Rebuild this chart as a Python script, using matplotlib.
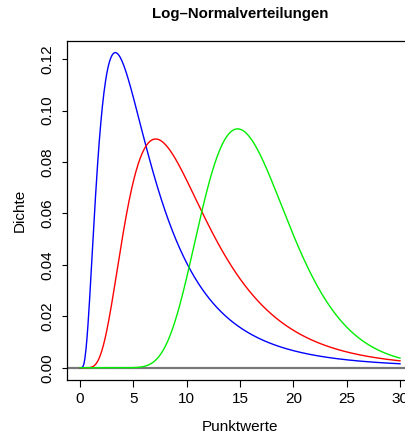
import numpy as np
import matplotlib
matplotlib.use("Agg")
import matplotlib.pyplot as plt

plt.rcParams['font.family'] = ['Liberation Sans', 'DejaVu Sans']

# Log-normal parameters (meanlog, sdlog)
meanlogs = [1.752, 2.256, 2.771]
sdlogs = [0.745, 0.545, 0.2795]
colors = ['blue', 'red', '#00ee00']

xticks = [0, 5, 10, 15, 20, 25, 30]
yticks = [0.00, 0.02, 0.04, 0.06, 0.08, 0.10, 0.12]
ytick_labels = ['0.00', '0.02', '0.04', '0.06', '0.08', '0.10', '0.12']


def dlnorm(x, mu, sigma):
    out = np.zeros_like(x)
    pos = x > 0
    xp = x[pos]
    out[pos] = np.exp(-(np.log(xp) - mu) ** 2 / (2 * sigma ** 2)) / (xp * sigma * np.sqrt(2 * np.pi))
    return out


fig = plt.figure(figsize=(4.06, 4.37), dpi=100)
W, H = 406, 437
# plot box in pixels: left 67.2, right 412.8 (beyond image), top 40.7, bottom 380.3
ax = fig.add_axes([67.2 / W, 1 - 380.3 / H, (412.8 - 67.2) / W, (380.3 - 40.7) / H])

x = np.linspace(0, 30, 601)
for mu, sd, c in zip(meanlogs, sdlogs, colors):
    ax.plot(x, dlnorm(x, mu, sd), color=c, lw=1.0)

ax.axhline(0, color='#777777', lw=1.6, zorder=1)

ax.set_xlim(-1.2, 31.2)
ax.set_ylim(-0.00489, 0.1272)
ax.set_xticks(xticks)
ax.set_yticks(yticks)
ax.set_yticklabels(ytick_labels, rotation=90, va='center')
ax.tick_params(axis='x', direction='out', length=5, width=0.8, labelsize=11, pad=3.5)
ax.tick_params(axis='y', direction='out', length=3.8, width=0.8, labelsize=11, pad=5.5)
for s in ax.spines.values():
    s.set_linewidth(0.9)

fig.text(240 / W, 1 - 431 / H, 'Punktwerte', ha='center', va='baseline', fontsize=11)
fig.text(19.7 / W, 1 - 210.5 / H, 'Dichte', ha='center', va='center', rotation=90, fontsize=11)
fig.text(240 / W, 1 - 14 / H, 'Log\u2013Normalverteilungen', ha='center', va='center',
         fontsize=10.8, fontweight='bold')

fig.savefig('out.png', dpi=100)
